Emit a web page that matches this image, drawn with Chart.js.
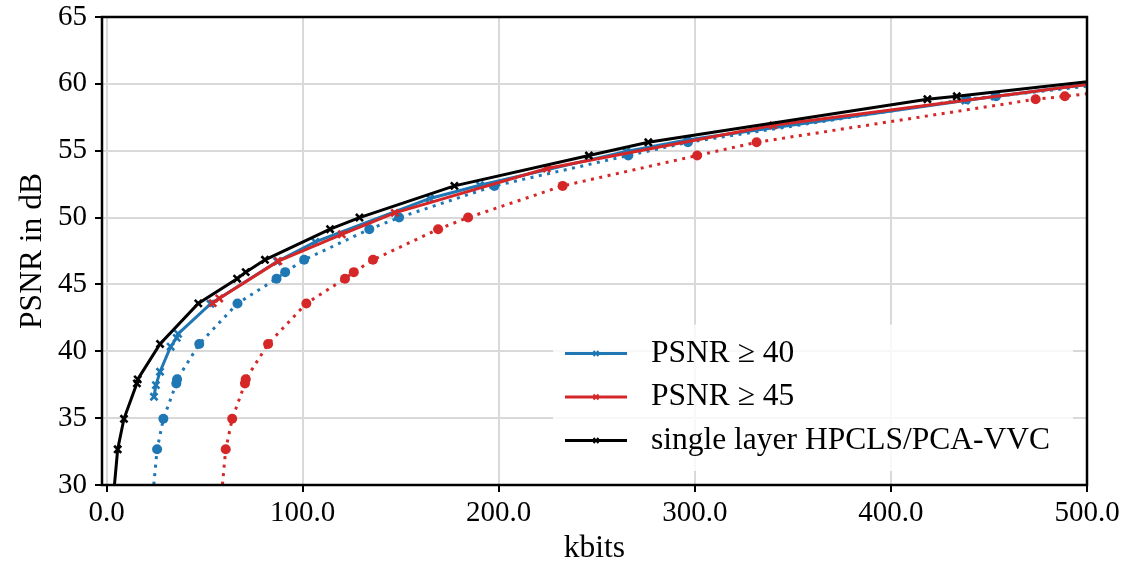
<!DOCTYPE html>
<html>
<head>
<meta charset="utf-8">
<script src="https://cdn.jsdelivr.net/npm/chart.js@4.4.1/dist/chart.umd.min.js"></script>
<style>
  html, body { margin: 0; padding: 0; background: #fff; }
  #wrap { width: 1124px; height: 568px; position: relative; }
</style>
</head>
<body>
<div id="wrap"><canvas id="c" width="1124" height="568"></canvas></div>
<script>
// ---- Data ----
const xTickValues = [0, 100, 200, 300, 400, 500];
const yTickStep = 5;

const seriesLabels = ['PSNR \u2265 40', 'PSNR \u2265 45', 'single layer HPCLS/PCA-VVC'];

const blueSolidX = [24.2, 25.2, 27.3, 32.7, 35.8, 36.5, 53.0, 87.0, 106.5, 164.9, 190.4, 265.0, 296.0, 438.0, 453.0, 540.0];
const blueSolidY = [36.60, 37.47, 38.47, 40.34, 41.00, 41.30, 43.55, 46.72, 48.18, 51.43, 52.42, 54.95, 55.80, 58.75, 59.05, 60.72];

const blueDotX = [22.5, 25.8, 29.0, 35.6, 36.0, 47.3, 66.8, 86.7, 91.1, 100.8, 134.0, 149.2, 197.8, 266.1, 296.5, 438.6, 453.6, 560.0];
const blueDotY = [27.50, 32.67, 34.95, 37.60, 37.90, 40.55, 43.58, 45.43, 45.92, 46.84, 49.13, 50.00, 52.37, 54.64, 55.63, 58.85, 59.07, 60.80];

const redSolidX = [54.2, 57.5, 87.6, 120.0, 147.0, 224.5, 340.0, 540.0];
const redSolidY = [43.60, 43.95, 46.74, 48.75, 50.35, 53.67, 56.90, 60.71];

const redDotX = [57.5, 60.8, 64.1, 70.6, 71.0, 82.4, 101.9, 121.6, 126.1, 135.9, 169.1, 184.4, 232.6, 301.2, 331.5, 473.8, 488.7, 595.0];
const redDotY = [27.50, 32.67, 34.95, 37.60, 37.90, 40.55, 43.58, 45.43, 45.92, 46.84, 49.13, 50.00, 52.37, 54.64, 55.63, 58.85, 59.07, 60.80];

const blackX = [2.5, 5.7, 8.9, 15.5, 15.9, 27.3, 46.8, 66.6, 71.0, 80.8, 114.0, 129.0, 177.4, 246.0, 276.3, 418.6, 433.6, 540.0];
const blackY = [27.50, 32.67, 34.95, 37.60, 37.90, 40.55, 43.58, 45.43, 45.92, 46.84, 49.13, 50.00, 52.37, 54.64, 55.63, 58.85, 59.07, 60.80];

// ---- Styles ----
const BLUE = '#1f77b4', RED = '#d62728', BLACK = '#000000';
const FONT = "'Liberation Serif', 'Times New Roman', serif";
const FS = 29;      // tick labels
const FS_TXT = 31.5;  // legend and axis titles (wider text face in the original)

const pts = (xs, ys) => xs.map((x, i) => ({ x: x, y: ys[i] }));

function solid(label, xs, ys, color, order) {
  return {
    label: label, data: pts(xs, ys), showLine: true,
    borderColor: color, backgroundColor: color, borderWidth: 3,
    pointStyle: 'crossRot', pointRadius: 5, pointBorderWidth: 2.6,
    pointBorderColor: color, pointBackgroundColor: color,
    pointHoverRadius: 5, order: order, showInLegend: true, clip: 0
  };
}
function dotted(xs, ys, color, order) {
  return {
    label: '', data: pts(xs, ys), showLine: true,
    borderColor: color, backgroundColor: color, borderWidth: 3,
    borderDash: [3, 5.5], borderCapStyle: 'butt',
    pointStyle: 'circle', pointRadius: 5, pointBorderWidth: 0,
    pointBackgroundColor: color, pointHoverRadius: 5,
    order: order, showInLegend: false, clip: 0
  };
}

const framePlugin = {
  id: 'frameAndLegend',
  afterDatasetsDraw(chart) {
    const ctx = chart.ctx, a = chart.chartArea;
    // legend
    const items = chart.data.datasets.filter(d => d.showInLegend);
    const boxRight = a.right - 14, boxBottom = a.bottom - 14;
    const rowH = 43.5;
    const boxLeft = 553;
    const boxTop = boxBottom - (items.length * rowH + 16);
    ctx.save();
    ctx.fillStyle = 'rgba(255,255,255,0.8)';
    ctx.beginPath();
    if (ctx.roundRect) ctx.roundRect(boxLeft, boxTop, boxRight - boxLeft, boxBottom - boxTop, 6);
    else ctx.rect(boxLeft, boxTop, boxRight - boxLeft, boxBottom - boxTop);
    ctx.fill();
    ctx.font = FS_TXT + 'px ' + FONT;
    ctx.textBaseline = 'middle';
    ctx.textAlign = 'left';
    items.forEach((d, i) => {
      const cy = boxTop + 29 + i * rowH;
      const x0 = boxLeft + 12, x1 = x0 + 62;
      ctx.strokeStyle = d.borderColor; ctx.lineWidth = 3; ctx.setLineDash([]);
      ctx.beginPath(); ctx.moveTo(x0, cy); ctx.lineTo(x1, cy); ctx.stroke();
      const mx = (x0 + x1) / 2, r = 2.5;
      ctx.lineWidth = 2;
      ctx.beginPath();
      ctx.moveTo(mx - r, cy - r); ctx.lineTo(mx + r, cy + r);
      ctx.moveTo(mx + r, cy - r); ctx.lineTo(mx - r, cy + r);
      ctx.stroke();
      ctx.fillStyle = '#000';
      ctx.fillText(d.label, x1 + 24, cy);
    });
    // frame (spines)
    ctx.strokeStyle = '#000';
    ctx.lineWidth = 2.5;
    ctx.strokeRect(a.left, a.top, a.right - a.left, a.bottom - a.top);
    ctx.restore();
  }
};

const ctx = document.getElementById('c').getContext('2d');
new Chart(ctx, {
  type: 'scatter',
  data: {
    datasets: [
      solid(seriesLabels[0], blueSolidX, blueSolidY, BLUE, 4),
      dotted(blueDotX, blueDotY, BLUE, 3),
      solid(seriesLabels[1], redSolidX, redSolidY, RED, 2),
      dotted(redDotX, redDotY, RED, 1),
      solid(seriesLabels[2], blackX, blackY, BLACK, 0)
    ]
  },
  options: {
    responsive: false,
    animation: false,
    devicePixelRatio: 1,
    layout: { padding: { left: 0, right: 37, top: 17, bottom: 0 } },
    plugins: { legend: { display: false }, tooltip: { enabled: false } },
    scales: {
      x: {
        type: 'linear', min: -2.3, max: 500,
        afterBuildTicks: (s) => { s.ticks = xTickValues.map(v => ({ value: v })); },
        afterFit: (s) => { s.height = 83; s.paddingLeft = 0; s.paddingRight = 0; },
        ticks: {
          font: { family: FONT, size: FS }, color: '#000', padding: 4,
          maxRotation: 0, autoSkip: false,
          callback: (v) => Number(v).toFixed(1)
        },
        grid: { color: '#d9d9d9', lineWidth: 2, tickColor: '#000', tickWidth: 2, tickLength: 7 },
        border: { display: false },
        title: { display: true, text: 'kbits', font: { family: FONT, size: FS_TXT }, color: '#000', padding: { top: 0, bottom: 0 } }
      },
      y: {
        type: 'linear', min: 30, max: 65,
        afterFit: (s) => { s.width = 102; s.paddingTop = 0; s.paddingBottom = 0; },
        ticks: {
          stepSize: yTickStep, font: { family: FONT, size: FS }, color: '#000', padding: 8,
          callback: (v) => String(v)
        },
        grid: { color: '#d9d9d9', lineWidth: 2, tickColor: '#000', tickWidth: 2, tickLength: 7 },
        border: { display: false },
        title: { display: true, text: 'PSNR in dB', font: { family: FONT, size: FS_TXT }, color: '#000', padding: { top: 14, bottom: 0 } }
      }
    }
  },
  plugins: [framePlugin]
});
</script>
</body>
</html>
